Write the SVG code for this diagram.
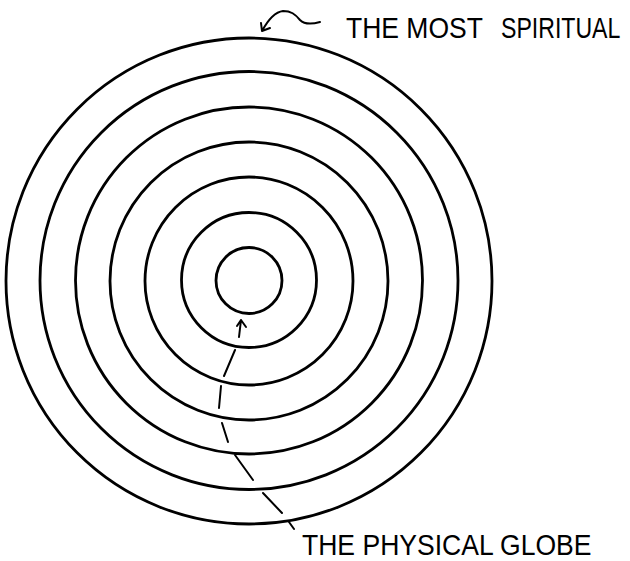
<svg xmlns="http://www.w3.org/2000/svg" width="630" height="561" viewBox="0 0 630 561">
<style>
.ring{fill:none;stroke:#000;stroke-width:2.8}
.con{fill:none;stroke:#000;stroke-width:2;stroke-linecap:round;stroke-linejoin:round}
.lbl{font-family:"Liberation Sans",Arial,sans-serif;font-size:30px;fill:#000}
</style>
<rect width="630" height="561" fill="#fff"/>
<g id="spheres">
<circle id="sphere7" class="ring" cx="249" cy="281" r="243"/>
<circle id="sphere6" class="ring" cx="249" cy="280.5" r="209"/>
<circle id="sphere5" class="ring" cx="249" cy="280.5" r="173.5"/>
<circle id="sphere4" class="ring" cx="249" cy="281" r="139"/>
<circle id="sphere3" class="ring" cx="249" cy="281" r="104"/>
<circle id="sphere2" class="ring" cx="249" cy="280" r="67.5"/>
<circle id="globe" class="ring" cx="249" cy="280.5" r="33"/>
</g>
<g id="connectors">
<path class="con" d="M320,22 C313,24 305,25 300,20 C295,14 291,11 283,11 C275,12 268,20 262,31 M261,23 L262,31 L270,28"/>
<path class="con" d="M239,337 L241,320 M237,326 L241,320 L246,327"/>
<path class="con" d="M235,350 L224,376 M221,386 L219,408 M222,423 L228,442 M235,455 L253,480 M263,493 L282,513 M289,522 L294,529"/>
</g>
<g id="label-top">
<text class="lbl" transform="translate(346,38) scale(0.884,1)" x="0" y="0">THE MOST</text>
<text class="lbl" transform="translate(501,38) scale(0.77,1)" x="0" y="0">SPIRITUAL</text>
</g>
<g id="label-bottom"><text class="lbl" transform="translate(302,555) scale(0.885,1)" x="0" y="0">THE PHYSICAL GLOBE</text></g>
</svg>
